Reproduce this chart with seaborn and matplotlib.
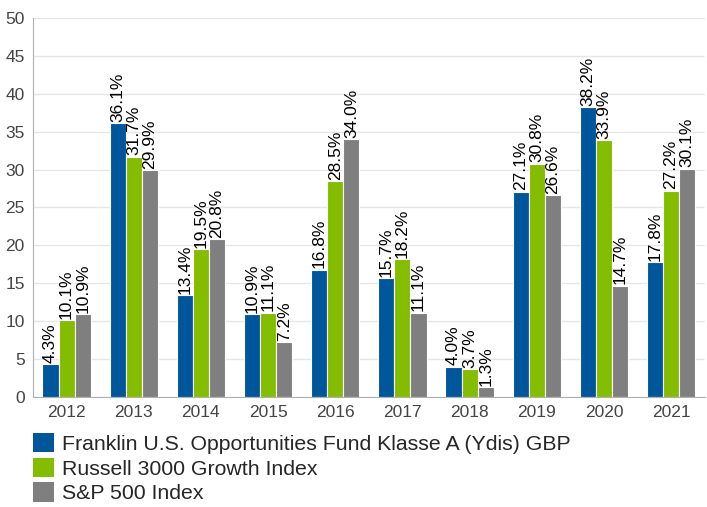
import matplotlib
matplotlib.use("Agg")
import matplotlib.pyplot as plt
import seaborn as sns
import pandas as pd
from matplotlib.patches import Patch

years = ["2012", "2013", "2014", "2015", "2016", "2017", "2018", "2019", "2020", "2021"]
franklin = [4.3, 36.1, 13.4, 10.9, 16.8, 15.7, 4.0, 27.1, 38.2, 17.8]
russell = [10.1, 31.7, 19.5, 11.1, 28.5, 18.2, 3.7, 30.8, 33.9, 27.2]
sp500 = [10.9, 29.9, 20.8, 7.2, 34.0, 11.1, 1.3, 26.6, 14.7, 30.1]
series = ["Franklin U.S. Opportunities Fund Klasse A (Ydis) GBP",
          "Russell 3000 Growth Index", "S&P 500 Index"]
colors = ["#00569A", "#84BD00", "#7F7F7F"]

rows = []
for name, vals in zip(series, [franklin, russell, sp500]):
    for y, v in zip(years, vals):
        rows.append({"Year": y, "Series": name, "Value": v})
df = pd.DataFrame(rows)

sns.set_style("white")
plt.rcParams['font.family'] = ['Liberation Sans', 'DejaVu Sans']

fig = plt.figure(figsize=(7.07, 5.07), dpi=100)
ax = fig.add_axes([0.0467, 0.217, 0.95, 0.7475])

sns.barplot(data=df, x="Year", y="Value", hue="Series", palette=colors,
            width=0.72, ax=ax, edgecolor="white", linewidth=0.8, legend=False,
            saturation=1)

for cont in ax.containers:
    labels = [f"{v:.1f}%" for v in cont.datavalues]
    ax.bar_label(cont, labels=labels, rotation=90, fontsize=12.5, padding=1, color="black")

ax.set_ylim(0, 50)
ax.set_yticks(range(0, 51, 5))
ax.set_xlim(-0.5, 9.5)
ax.set_xlabel("")
ax.set_ylabel("")
ax.yaxis.grid(True, color="#e6e6e6", linewidth=1)
ax.set_axisbelow(True)
for s in ["top", "right"]:
    ax.spines[s].set_visible(False)
ax.spines["left"].set_color("#b0b0b0")
ax.spines["bottom"].set_color("#b0b0b0")
ax.tick_params(axis="both", length=0, labelsize=12.5, colors="#444444", pad=6)

handles = [Patch(facecolor=c, edgecolor="none") for c in colors]
fig.legend(handles, series, loc="upper left", bbox_to_anchor=(0.035, 0.163),
           frameon=False, fontsize=15.3, handlelength=1.0, handleheight=1.03,
           handletextpad=0.33, labelspacing=0.18, borderaxespad=0)

fig.savefig("out.png", dpi=100)
